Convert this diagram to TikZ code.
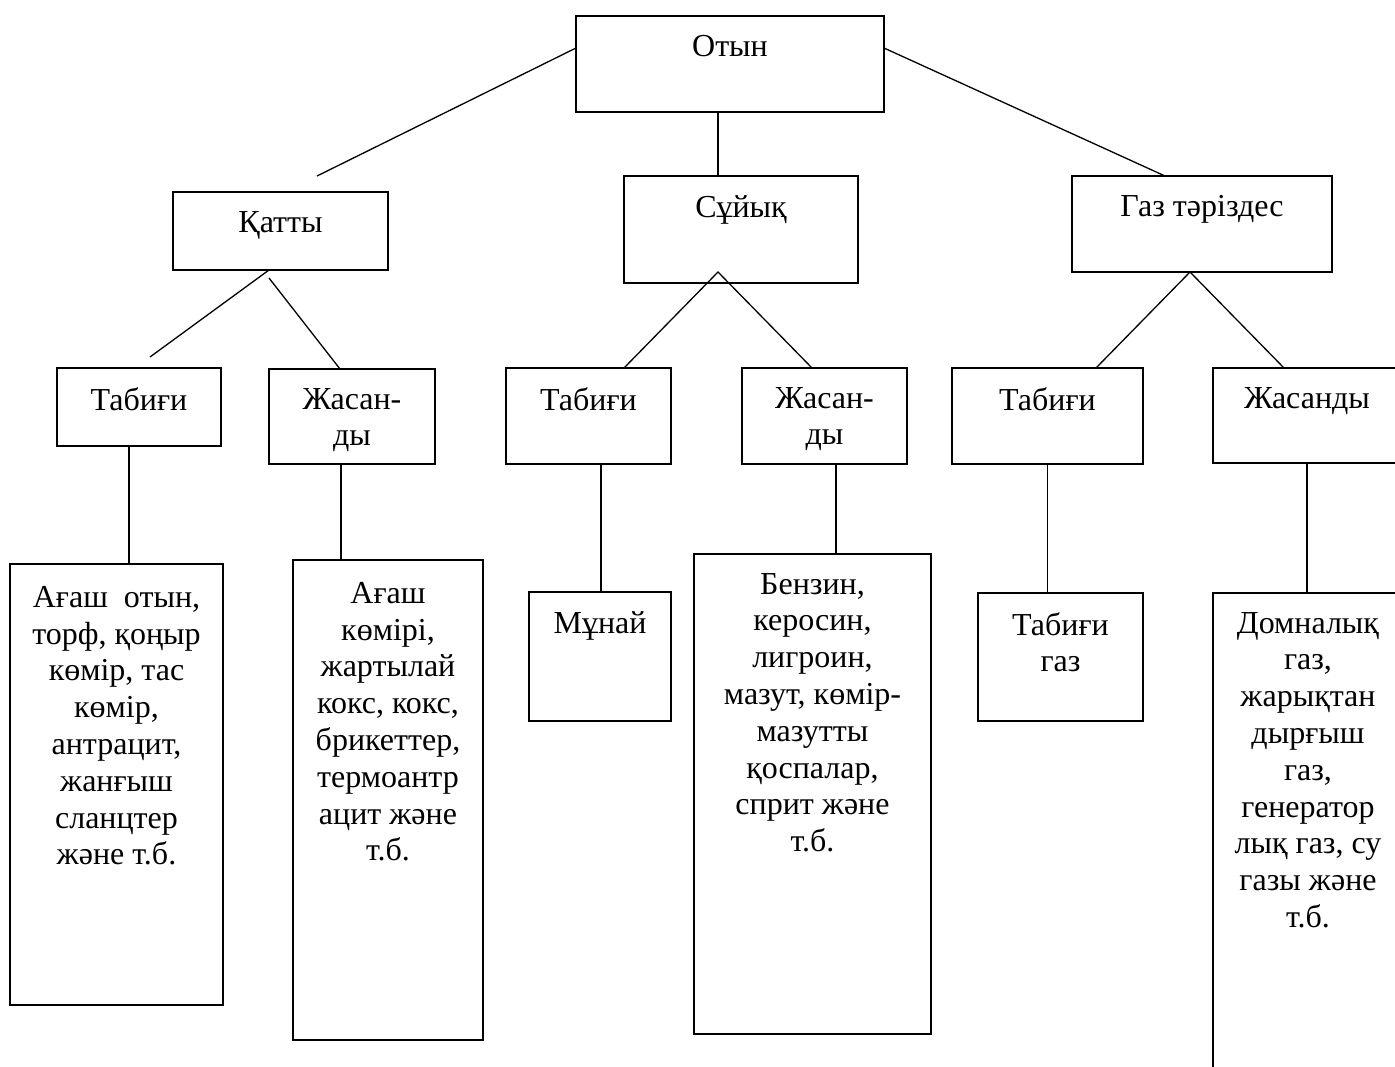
\documentclass[tikz,border=0pt]{standalone}
\usepackage{fontspec}
\setmainfont{Liberation Serif}
\tikzset{
  % Box
  FB/.style={rectangle,draw,line width=1.5pt,inner sep=0pt,outer sep=0pt,
             anchor=north west},
  % Text at the top of a box
  TX/.style={anchor=north,inner sep=0pt,yshift=-19pt,align=center,
             font=\fontsize{32pt}{36.8pt}\selectfont},
  % Line
  ln/.style={line width=1.3pt}
}
\begin{document}
\begin{tikzpicture}[x=1pt,y=-1pt]
  \useasboundingbox (0,0) rectangle (1395,1066);
  \clip (0,0) rectangle (1395,1066);

  \node[FB,minimum width=308pt,minimum height=96pt, label={[TX]north:Отын}]        (otyn)  at (576,16)  {};
  \node[FB,minimum width=215pt,minimum height=78pt, label={[TX]north:Қатты}]       (qatty) at (173,192) {};
  \node[FB,minimum width=234pt,minimum height=107pt,label={[TX]north:Сұйық}]       (suyiq) at (624,176) {};
  \node[FB,minimum width=260pt,minimum height=96pt, label={[TX]north:Газ тәріздес}](gaz)   at (1072,176){};

  \node[FB,minimum width=164pt,minimum height=78pt,label={[TX]north:Табиғи}]        (tabA)  at (57,368)  {};
  \node[FB,minimum width=166pt,minimum height=95pt,label={[TX]north:{Жасан-\\ды}}]  (zhasA) at (269,369) {};
  \node[FB,minimum width=165pt,minimum height=96pt,label={[TX]north:Табиғи}]        (tabB)  at (506,368) {};
  \node[FB,minimum width=165pt,minimum height=96pt,label={[TX]north:{Жасан-\\ды}}]  (zhasB) at (742,368) {};
  \node[FB,minimum width=191pt,minimum height=96pt,label={[TX]north:Табиғи}]        (tabC)  at (952,368) {};
  \node[FB,minimum width=188pt,minimum height=95pt,label={[TX]north:Жасанды}]       (zhasC) at (1213,368){};

  \node[FB,minimum width=213pt,minimum height=441pt,label={[TX,yshift=-3pt]north:{Ағаш\ \ отын,\\торф, қоңыр\\көмір, тас\\көмір,\\антрацит,\\жанғыш\\сланцтер\\және т.б.}}] (leafA) at (10,564) {};
  \node[FB,minimum width=190pt,minimum height=480pt,label={[TX,yshift=-3pt]north:{Ағаш\\көмірі,\\жартылай\\кокс, кокс,\\брикеттер,\\термоантр\\ацит және\\т.б.}}] (leafB) at (293,560) {};
  \node[FB,minimum width=142pt,minimum height=129pt,label={[TX]north:Мұнай}] (munai) at (529,592) {};
  \node[FB,minimum width=237pt,minimum height=480pt,label={[TX]north:{Бензин,\\керосин,\\лигроин,\\мазут, көмір-\\мазутты\\қоспалар,\\сприт және\\т.б.}}] (benzin) at (694,554) {};
  \node[FB,minimum width=165pt,minimum height=128pt,label={[TX]north:{Табиғи\\газ}}] (tabgaz) at (978,593) {};
  \node[FB,minimum width=190pt,minimum height=520pt,label={[TX]north:{Домналық\\газ,\\жарықтан\\дырғыш\\газ,\\генератор\\лық газ, су\\газы және\\т.б.}}] (domna) at (1213,593) {};

  \coordinate (qattyTop) at (317,176);
  \coordinate (tabAtop)  at (150,357);
  \coordinate (zhasAbot) at (269,278);
  \coordinate (suyiqFork) at (718,272);

  \draw[ln] ([yshift=16pt]otyn.west) -- (qattyTop);
  \draw[ln] ([xshift=-12pt]otyn.south) -- ([xshift=-12pt]otyn.south |- suyiq.north);
  \draw[ln] ([yshift=16pt]otyn.east) -- ([xshift=-37pt]gaz.north);

  \draw[ln] ([xshift=-11.5pt]qatty.south) -- (tabAtop);
  \draw[ln] (zhasAbot) -- ([xshift=-12pt]zhasA.north);
  \draw[ln] ([xshift=35.5pt]tabB.north) -- (suyiqFork) -- ([xshift=-12.5pt]zhasB.north);
  \draw[ln] ([xshift=48.5pt]tabC.north) -- ([xshift=-12pt]gaz.south) -- ([xshift=-23pt]zhasC.north);

  \draw[ln] ([xshift=-10pt]tabA.south) -- ([xshift=-10pt]tabA.south |- leafA.north);
  \draw[ln] ([xshift=-11pt]zhasA.south) -- ([xshift=-11pt]zhasA.south |- leafB.north);
  \draw[ln] ([xshift=12.5pt]tabB.south) -- ([xshift=12.5pt]tabB.south |- munai.north);
  \draw[ln] ([xshift=11.5pt]zhasB.south) -- ([xshift=11.5pt]zhasB.south |- benzin.north);
  \draw[ln] (tabC.south) -- (tabC.south |- tabgaz.north);
  \draw[ln] (zhasC.south) -- (zhasC.south |- domna.north);
\end{tikzpicture}
\end{document}
